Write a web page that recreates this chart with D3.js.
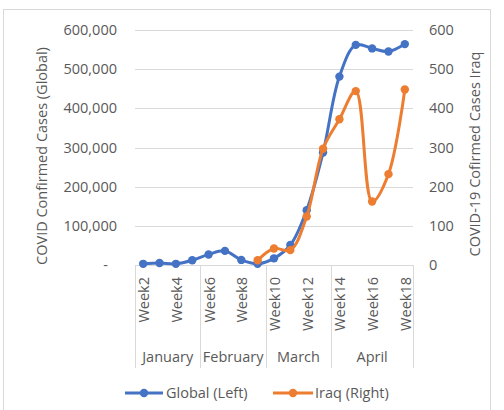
<!DOCTYPE html>
<html>
<head>
<meta charset="utf-8">
<script src="https://cdn.jsdelivr.net/npm/d3@7/dist/d3.min.js"></script>
<style>
  html, body { margin: 0; padding: 0; background: #fff; }
  svg { display: block; font-family: "Open Sans", "Noto Sans", sans-serif; }
</style>
</head>
<body>
<svg id="chart" width="504" height="410"></svg>
<script>
const weeks = ["Week2","Week3","Week4","Week5","Week6","Week7","Week8","Week9","Week10","Week11","Week12","Week13","Week14","Week15","Week16","Week17","Week18"];
const months = ["January","February","March","April"];
const monthOfWeek = ["January","January","January","January","February","February","February","February","March","March","March","March","April","April","April","April","April"];
const globalCases = [3000, 5000, 3000, 12000, 27000, 36000, 13000, 3000, 17000, 51000, 140000, 287000, 481000, 562000, 553000, 545000, 564000];
const iraqCases = [null, null, null, null, null, null, null, 12, 42, 38, 124, 297, 372, 444, 162, 232, 448];
const leftTicks = [0, 100000, 200000, 300000, 400000, 500000, 600000];
const rightTicks = [0, 100, 200, 300, 400, 500, 600];
const weekLabels = ["Week2","Week4","Week6","Week8","Week10","Week12","Week14","Week16","Week18"];
const seriesNames = ["Global (Left)", "Iraq (Right)"];

(function () {
const svg = d3.select("#chart");
const textColor = "#595959";
const gridColor = "#d9d9d9";
const blue = "#4472C4";
const orange = "#ED7D31";

const pL = 135, pR = 413, pT = 30, pB = 265;

const x = d3.scaleBand().domain(weeks).range([pL, pR]).padding(0);
const cx = d => x(d) + x.bandwidth() / 2;
const yL = d3.scaleLinear().domain([0, 600000]).range([pB, pT]);
const yR = d3.scaleLinear().domain([0, 600]).range([pB, pT]);

// chart border
svg.append("rect").attr("x", 3.5).attr("y", 9.5).attr("width", 487).attr("height", 410)
  .attr("fill", "none").attr("stroke", gridColor).attr("stroke-width", 1);

// gridlines
svg.append("g").selectAll("line").data(leftTicks.slice(1)).join("line")
  .attr("x1", pL).attr("x2", pR)
  .attr("y1", d => Math.round(yL(d)) + 0.5).attr("y2", d => Math.round(yL(d)) + 0.5)
  .attr("stroke", gridColor).attr("stroke-width", 1);

// axis line
svg.append("line").attr("x1", pL).attr("x2", pR)
  .attr("y1", pB + 0.5).attr("y2", pB + 0.5)
  .attr("stroke", gridColor).attr("stroke-width", 1);

// month dividers
const groups = months.map(m => {
  const ws = weeks.filter((w, i) => monthOfWeek[i] === m);
  return { m, x0: x(ws[0]), x1: x(ws[ws.length - 1]) + x.bandwidth() };
});
const dividers = [groups[0].x0].concat(groups.map(g => g.x1));
svg.append("g").selectAll("line").data(dividers).join("line")
  .attr("x1", d => Math.round(d) + 0.5).attr("x2", d => Math.round(d) + 0.5)
  .attr("y1", pB).attr("y2", 368)
  .attr("stroke", gridColor).attr("stroke-width", 1);

// left tick labels
svg.append("g").selectAll("text").data(leftTicks).join("text")
  .attr("x", d => d === 0 ? 108 : 117)
  .attr("y", d => yL(d)).attr("dy", "0.35em")
  .attr("text-anchor", "end").attr("fill", textColor).attr("font-size", 14.5)
  .text(d => d === 0 ? "-" : d3.format(",")(d));

// right tick labels
svg.append("g").selectAll("text").data(rightTicks).join("text")
  .attr("x", 429).attr("y", d => yR(d)).attr("dy", "0.35em")
  .attr("text-anchor", "start").attr("fill", textColor).attr("font-size", 14.5)
  .text(d => d);

// week labels
svg.append("g").selectAll("text").data(weekLabels).join("text")
  .attr("transform", d => `translate(${cx(d) + 1},277) rotate(-90)`)
  .attr("dy", "0.35em").attr("text-anchor", "end")
  .attr("fill", textColor).attr("font-size", 14.5)
  .text(d => d);

// month labels
svg.append("g").selectAll("text").data(groups).join("text")
  .attr("x", g => (g.x0 + g.x1) / 2).attr("y", 362)
  .attr("text-anchor", "middle").attr("fill", textColor).attr("font-size", 14.5)
  .text(g => g.m);

// axis titles
svg.append("text").attr("transform", "translate(47,156) rotate(-90)")
  .attr("text-anchor", "middle").attr("fill", textColor).attr("font-size", 14.5)
  .text("COVID Confirmed Cases (Global)");
svg.append("text").attr("transform", "translate(480,154) rotate(-90)")
  .attr("text-anchor", "middle").attr("fill", textColor).attr("font-size", 14.5)
  .text("COVID-19 Cofirmed Cases Iraq");

// series
const gData = weeks.map((w, i) => ({ w, v: globalCases[i] }));
const iData = weeks.map((w, i) => ({ w, v: iraqCases[i] })).filter(d => d.v !== null);

const lineG = d3.line().x(d => cx(d.w)).y(d => yL(d.v)).curve(d3.curveCatmullRom.alpha(0.5));
const lineI = d3.line().x(d => cx(d.w)).y(d => yR(d.v)).curve(d3.curveCatmullRom.alpha(0.5));

svg.append("path").datum(gData).attr("d", lineG)
  .attr("fill", "none").attr("stroke", blue).attr("stroke-width", 3).attr("stroke-linejoin", "round");
svg.append("g").selectAll("circle").data(gData).join("circle")
  .attr("cx", d => cx(d.w)).attr("cy", d => yL(d.v)).attr("r", 4.2).attr("fill", blue);

svg.append("path").datum(iData).attr("d", lineI)
  .attr("fill", "none").attr("stroke", orange).attr("stroke-width", 3).attr("stroke-linejoin", "round");
svg.append("g").selectAll("circle").data(iData).join("circle")
  .attr("cx", d => cx(d.w)).attr("cy", d => yR(d.v)).attr("r", 4.2).attr("fill", orange);

// legend
const legend = [
  { name: seriesNames[0], color: blue, x0: 125, x1: 163, tx: 166 },
  { name: seriesNames[1], color: orange, x0: 273, x1: 313, tx: 315 }
];
const lg = svg.append("g");
legend.forEach(l => {
  lg.append("line").attr("x1", l.x0).attr("x2", l.x1).attr("y1", 393).attr("y2", 393)
    .attr("stroke", l.color).attr("stroke-width", 3);
  lg.append("circle").attr("cx", (l.x0 + l.x1) / 2).attr("cy", 393).attr("r", 4.2).attr("fill", l.color);
  lg.append("text").attr("x", l.tx).attr("y", 393).attr("dy", "0.35em")
    .attr("fill", textColor).attr("font-size", 14.5).text(l.name);
});
})();
</script>
</body>
</html>
